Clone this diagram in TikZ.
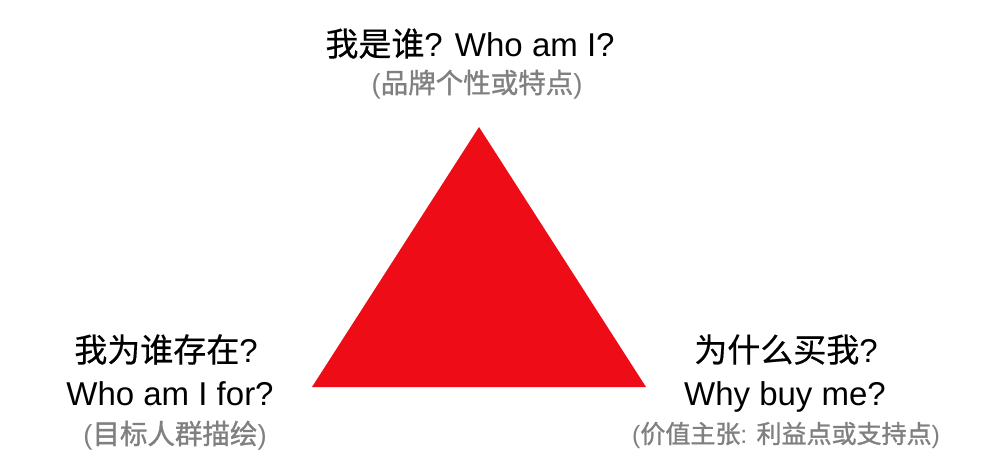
\documentclass[tikz,border=0pt]{standalone}
\usepackage{fontspec}
\setmainfont{Liberation Sans}
\newfontfamily\cjk[FakeBold=0.45]{Noto Sans CJK SC}
\newfontfamily\cjkm[FakeBold=1.2]{Noto Sans CJK SC}
\definecolor{tri}{HTML}{EE0C16}
\definecolor{sub}{HTML}{808080}
\begin{document}
\begin{tikzpicture}[x=1pt,y=-1pt,
  main/.style={anchor=base,inner sep=0pt,font=\fontsize{33}{33}\selectfont,text=black},
  subt/.style={anchor=base,inner sep=0pt,font=\fontsize{27.5}{27.5}\selectfont,text=sub},
  subs/.style={subt,font=\fontsize{25}{25}\selectfont}]
\useasboundingbox (0,0) rectangle (999,472);
\coordinate (apex) at (479,127);
\coordinate (bl) at (312,387);
\coordinate (br) at (646,387);
\fill[tri] (apex) -- (bl) -- (br) -- cycle;
\node[main] (t1) at (470,56) {{\cjk 我是谁}? Who am I?};
\node[subt] (t2) at (477,93) {({\cjkm 品牌个性或特点})};
\node[main] (l1) at (166,362) {{\cjk 我为谁存在}?};
\node[main] (l2) at (170,405) {Who am I for?};
\node[subt] (l3) at (175,444) {({\cjkm 目标人群描绘})};
\node[main] (r1) at (786,362) {{\cjk 为什么买我}?};
\node[main] (r2) at (785,405) {Why buy me?};
\node[subs] (r3) at (786,443) {({\cjkm 价值主张}: {\cjkm 利益点或支持点})};
\end{tikzpicture}
\end{document}
